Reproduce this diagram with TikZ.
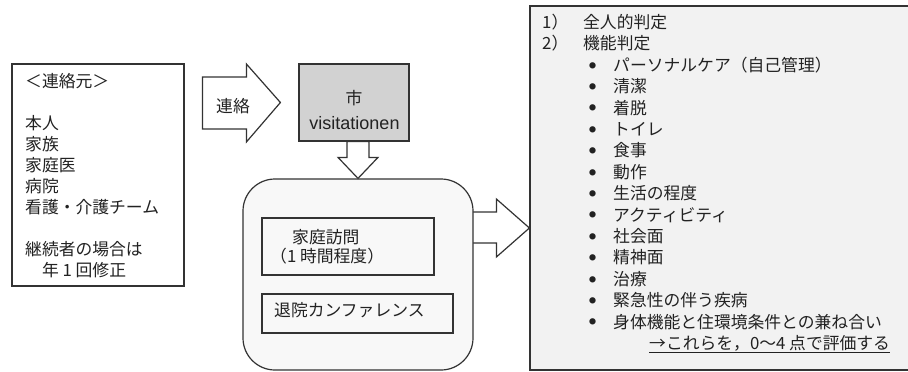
\documentclass[tikz,border=0pt]{standalone}
\usepackage{fontspec}
\newfontfamily\jp{Noto Sans CJK JP}
\newfontfamily\lat{Liberation Sans}
\usetikzlibrary{calc}
\definecolor{ln}{HTML}{333333}
\definecolor{tx}{HTML}{222222}
\definecolor{cityfill}{HTML}{D2D2D2}
\definecolor{procfill}{HTML}{F8F8F8}
\definecolor{evalfill}{HTML}{F2F2F2}
\newcommand{\blt}{\makebox[21pt][c]{\raisebox{3.2pt}{\fontsize{7}{7}\selectfont ●}}}
\begin{document}
\begin{tikzpicture}[x=1pt,y=-1pt,
  box/.style={draw=ln, line width=1.2pt, inner sep=0pt, rectangle},
  txt/.style={font=\jp\fontsize{16.8}{21}\selectfont, inner sep=0pt, anchor=base west, text=tx},
  barrow/.style={draw=ln, line width=1.2pt, fill=white, line join=miter}]
\useasboundingbox (0,0) rectangle (908,372);

% boxes
\node[box, fill=white, minimum width=172pt, minimum height=222pt] (src) at (98,175) {};
\node[box, fill=cityfill, minimum width=110pt, minimum height=77pt] (city) at (354,102.5) {};
\node[box, fill=evalfill, minimum width=382pt, minimum height=364pt] (eval) at (721,188) {};

% block arrows
\coordinate (tipA) at ($(city.west)+(-18,0)$);
\draw[barrow] (tipA) -- ++(-34,-38.5) -- ++(0,13) -- ++(-44,0) -- ++(0,52) -- ++(44,0) -- ++(0,13) -- cycle;
\node[txt, anchor=base] (lbl) at (233,112) {連絡};

\coordinate (tipR) at ($(eval.west)+(0,40)$);
\draw[barrow] (tipR) -- ++(-33,-29) -- ++(0,13) -- ++(-28,0) -- ++(0,31) -- ++(28,0) -- ++(0,14) -- cycle;

\node[box, fill=procfill, rounded corners=32pt, minimum width=230pt, minimum height=191pt] (proc) at (358,274.5) {};

\draw[barrow] (proc.north) -- ++(-20,-21) -- ++(9,0) |- (city.south) -| ($(proc.north)+(11,-21)$) -- ++(9,0) -- cycle;
\node[box, fill=cityfill, minimum width=110pt, minimum height=77pt] (city2) at (city) {};

\node[box, fill=procfill, minimum width=172pt, minimum height=57pt] (visit) at (348,246.5) {};
\node[box, fill=procfill, minimum width=191pt, minimum height=39pt] (conf) at (357.5,313.5) {};

% city text
\node[txt, anchor=base] (cityA) at (354,104.4) {市};
\node[inner sep=0pt, anchor=base, text=tx, font=\lat\fontsize{18}{20}\selectfont] (cityB) at (354.5,129) {visitationen};

% inner box texts
\node[txt] (visA) at (292,243.5) {家庭訪問};
\node[txt] (visB) at (270,262.5) {（1 時間程度）};
\node[txt] (confA) at (274,316.5) {退院カンファレンス};

% left box text
\foreach \k/\t [count=\n] in {0/＜連絡元＞, 2/本人, 3/家族, 4/家庭医, 5/病院, 6/看護・介護チーム, 8/継続者の場合は, 9/　年 1 回修正}{
  \node[txt] (s\n) at (25,87.4+21*\k) {\t};
}

% right box text
\node[txt] (r1) at (542,28.4) {\makebox[41pt][l]{1）}全人的判定};
\node[txt] (r2) at (542,49.8) {\makebox[41pt][l]{2）}機能判定};
\foreach \t [count=\n from 2] in {パーソナルケア（自己管理）, 清潔, 着脱, トイレ, 食事, 動作, 生活の程度, アクティビティ, 社会面, 精神面, 治療, 緊急性の伴う疾病, 身体機能と住環境条件との兼ね合い}{
  \node[txt] (b\n) at (582,28.4+21.4*\n) {\blt\hspace{10pt}\t};
}
\node[txt] (note) at (649,28.4+21.4*15) {\underline{→これらを，0～4 点で評価する}};
\end{tikzpicture}
\end{document}
